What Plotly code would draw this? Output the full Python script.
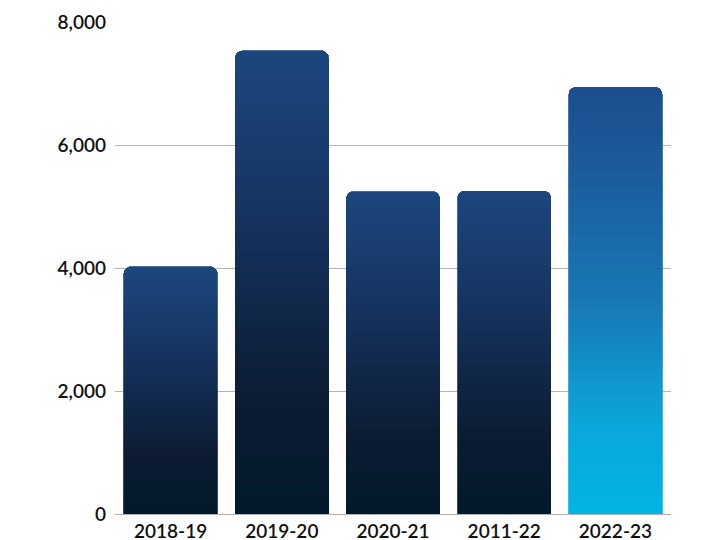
import plotly.graph_objects as go

# dados
anos = ['2018-19', '2019-20', '2020-21', '2011-22', '2022-23']
valores = [4020, 7530, 5240, 5250, 6940]
destaque = [False, False, False, False, True]

# paradas de cor do degradê (base -> topo)
escuro = [(0.0, '#021a2b'), (0.25, '#0c1c33'), (0.5, '#122b50'), (0.8, '#193c6e'), (1.0, '#1c467e')]
claro = [(0.0, '#00b4e3'), (0.2, '#0aa8dc'), (0.5, '#1878b4'), (0.8, '#1b5c9c'), (1.0, '#1c4d8e')]


def hex_rgb(h):
    h = h.lstrip('#')
    return tuple(int(h[i:i + 2], 16) for i in (0, 2, 4))


def cor(paradas, t):
    for (t0, c0), (t1, c1) in zip(paradas[:-1], paradas[1:]):
        if t <= t1:
            f = (t - t0) / (t1 - t0)
            a, b = hex_rgb(c0), hex_rgb(c1)
            return 'rgb({},{},{})'.format(*[round(a[k] + (b[k] - a[k]) * f) for k in range(3)])
    return paradas[-1][1]


n_fatias = 60

fig = go.Figure()
for i in range(n_fatias):
    t = (i + 0.5) / n_fatias
    cores = [cor(claro if d else escuro, t) for d in destaque]
    fig.add_trace(go.Bar(x=anos,
                         y=[v / n_fatias for v in valores],
                         marker=dict(color=cores, line=dict(color=cores, width=0.8)),
                         hoverinfo='skip',
                         showlegend=False))

# a página tem 8px de margem no body
fig.update_layout(
    width=704, height=532,
    barmode='stack',
    bargap=0.16,
    barcornerradius=7,
    plot_bgcolor='white',
    paper_bgcolor='white',
    margin=dict(l=107, r=41, t=14, b=26),
    font=dict(family='Lato', size=19, color='#111111'),
    xaxis=dict(showgrid=False, showline=True, linecolor='#b0b0b0', linewidth=1, automargin=False,
               ticks='', ticklabelstandoff=0, tickfont=dict(size=19, weight=600)),
    yaxis=dict(range=[0, 8000], tickvals=[0, 2000, 4000, 6000, 8000], tickformat=',',
               showgrid=True, gridcolor='#b4b4b4', gridwidth=1, zeroline=False, automargin=False,
               ticks='', ticklabelstandoff=8, tickfont=dict(size=19, weight=600)),
)

fig.write_html("out.html")
